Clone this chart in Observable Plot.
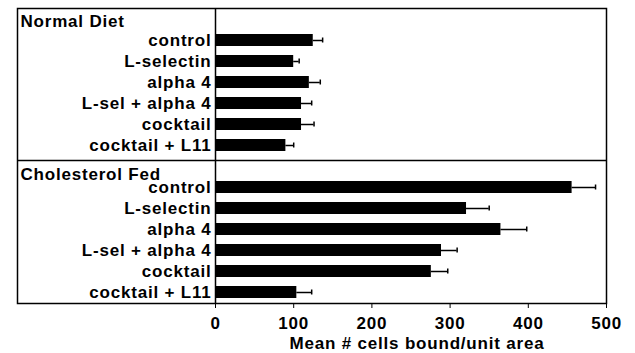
<!DOCTYPE html>
<html>
<head>
<meta charset="utf-8">
<script src="https://cdn.jsdelivr.net/npm/d3@7"></script>
<script src="https://cdn.jsdelivr.net/npm/@observablehq/plot@0.6"></script>
<style>
  html, body { margin: 0; padding: 0; background: #fff; }
</style>
</head>
<body>
<div id="chart"></div>
<script>
const panels = ["Normal Diet", "Cholesterol Fed"];
const categories = ["control", "L-selectin", "alpha 4", "L-sel + alpha 4", "cocktail", "cocktail + L11"];
const normalMeans = [125, 100, 120, 110, 110, 90];
const normalErr = [12, 7, 14, 13, 16, 10];
const cholMeans = [456, 321, 365, 289, 276, 104];
const cholErr = [30, 29, 33, 20, 21, 19];
const xTicks = [0, 100, 200, 300, 400, 500];
const xLabel = "Mean # cells bound/unit area";

// band keys: one header row per panel, then its categories
const keyOf = (p, c) => p + "|" + c;
const yDomain = [];
const catKeys = [];
panels.forEach(p => {
  yDomain.push(p);
  categories.forEach(c => { yDomain.push(keyOf(p, c)); catKeys.push(keyOf(p, c)); });
});

const data = [];
categories.forEach((c, i) => data.push({key: keyOf(panels[0], c), mean: normalMeans[i], err: normalErr[i]}));
categories.forEach((c, i) => data.push({key: keyOf(panels[1], c), mean: cholMeans[i], err: cholErr[i]}));

const chart = Plot.plot({
  width: 635,
  height: 353,
  marginLeft: 215,
  marginRight: 29,
  marginTop: 8,
  marginBottom: 50,
  style: {fontFamily: "'Liberation Sans', Arial, sans-serif", fontSize: "17px", fontWeight: "bold", letterSpacing: "0.8px", color: "#000", background: "#fff"},
  x: {domain: [0, 500], ticks: xTicks, tickSize: 5, tickPadding: 8, label: null},
  y: {domain: yDomain, padding: 0.43, paddingOuter: 0, align: 0.5, ticks: catKeys, tickFormat: d => d.split("|")[1], tickSize: 0, tickPadding: 4, label: null},
  marks: [
    Plot.frame({insetLeft: -198, strokeWidth: 1.5}),
    Plot.ruleY([panels[1]], {y: d => d, x1: 0, x2: 500, insetLeft: -198, dy: -6, strokeWidth: 1.5}),
    Plot.barX(data, {y: "key", x: "mean", fill: "#000"}),
    Plot.ruleY(data, {y: "key", x1: "mean", x2: d => d.mean + d.err, strokeWidth: 1.5}),
    Plot.tickX(data, {y: "key", x: d => d.mean + d.err, strokeWidth: 1.5, insetTop: 3.5, insetBottom: 3.5}),
    Plot.ruleX([0], {strokeWidth: 1.5}),
    Plot.text([panels[0]], {y: d => d, text: d => d, frameAnchor: "left", textAnchor: "start", dx: -195, dy: 2}),
    Plot.text([panels[1]], {y: d => d, text: d => d, frameAnchor: "left", textAnchor: "start", dx: -195, dy: 8}),
    Plot.text([xLabel], {frameAnchor: "bottom", text: d => d, lineAnchor: "bottom", dx: 6, dy: 45})
  ]
});
document.getElementById("chart").appendChild(chart);
</script>
</body>
</html>
